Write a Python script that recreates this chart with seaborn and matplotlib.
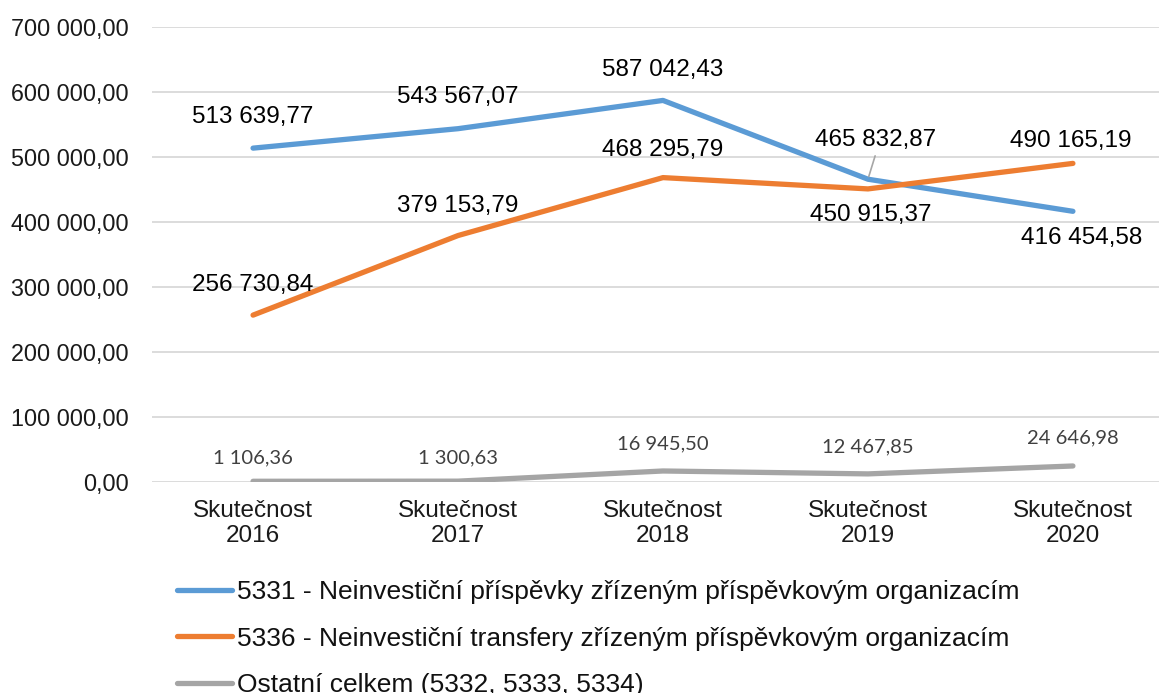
import matplotlib
matplotlib.use("Agg")
import matplotlib.pyplot as plt
import seaborn as sns
import pandas as pd
from matplotlib.lines import Line2D

# Data
categories = ["Skutečnost\n2016", "Skutečnost\n2017", "Skutečnost\n2018",
              "Skutečnost\n2019", "Skutečnost\n2020"]
series_names = ["5331 - Neinvestiční příspěvky zřízeným příspěvkovým organizacím",
                "5336 - Neinvestiční transfery zřízeným příspěvkovým organizacím",
                "Ostatní celkem (5332, 5333, 5334)"]
s5331 = [513639.77, 543567.07, 587042.43, 465832.87, 416454.58]
s5336 = [256730.84, 379153.79, 468295.79, 450915.37, 490165.19]
others = [1106.36, 1300.63, 16945.50, 12467.85, 24646.98]
y_ticks = [0, 100000, 200000, 300000, 400000, 500000, 600000, 700000]

colors = ["#5B9BD5", "#ED7D31", "#A5A5A5"]

# Label offsets in pixels (dx, dy) per series/point
off_5331 = [(0, 31), (0, 32), (0, 30), (8, 39), (9, -27)]
off_5336 = [(0, 30), (0, 30), (0, 28), (3, -26), (-2, 22)]
off_other = [(0, 23), (0, 23), (0, 27), (0, 27), (0, 28)]


def fmt(v):
    return f"{v:,.2f}".replace(",", " ").replace(".", ",")


rows = []
for name, vals in zip(series_names, [s5331, s5336, others]):
    for c, v in zip(categories, vals):
        rows.append({"kat": c, "hodnota": v, "rada": name})
df = pd.DataFrame(rows)

sns.set_style("white")
plt.rcParams["font.family"] = ["Liberation Sans", "DejaVu Sans"]

fig = plt.figure(figsize=(11.59, 6.93), dpi=100)
ax = fig.add_axes([152 / 1159, 1 - 482 / 693, 1 - 152 / 1159, (482 - 27) / 693])

sns.lineplot(data=df, x="kat", y="hodnota", hue="rada", hue_order=series_names,
             palette=colors, linewidth=3.8, sort=False, legend=False, ax=ax)

ax.set_ylim(0, 700000)
ax.set_xlim(-0.493, 4.42)
ax.set_yticks(y_ticks)
ax.set_yticklabels([fmt(t) for t in y_ticks], fontsize=16.8, color="#1a1a1a")
ax.tick_params(axis="x", labelsize=17.5, labelcolor="#1a1a1a", length=0, pad=13)
ax.tick_params(axis="y", length=0, pad=17)
ax.set_xlabel("")
ax.set_ylabel("")
ax.grid(axis="y", color="#D9D9D9", linewidth=1.3)
ax.set_axisbelow(True)
for sp in ax.spines.values():
    sp.set_visible(False)

# data labels
for vals, offs in [(s5331, off_5331), (s5336, off_5336)]:
    for i, (v, (dx, dy)) in enumerate(zip(vals, offs)):
        ax.annotate(fmt(v), (i, v), xytext=(dx, dy), textcoords="offset pixels",
                    ha="center", va="center", fontsize=17.5, color="#000000")

# leader line for the crowded 2019 label
ax.annotate("", xy=(3, s5331[3]), xytext=(8, 26), textcoords="offset pixels",
            arrowprops=dict(arrowstyle="-", color="#A6A6A6", lw=1.2))

for i, (v, (dx, dy)) in enumerate(zip(others, off_other)):
    ax.annotate(fmt(v), (i, v), xytext=(dx, dy), textcoords="offset pixels",
                ha="center", va="center", fontsize=14.5, color="#404040",
                family=["Lato", "DejaVu Sans"])

handles = [Line2D([0], [0], color=c, lw=3.8, solid_capstyle="round") for c in colors]
leg = fig.legend(handles, series_names, loc="upper left",
                 bbox_to_anchor=(177 / 1159, 1 - 580 / 693),
                 frameon=False, fontsize=19, handlelength=2.08, handletextpad=0.19,
                 labelspacing=0.86, borderaxespad=0, borderpad=0)
for t in leg.get_texts():
    t.set_color("#111111")

fig.savefig("out.png", dpi=100)
